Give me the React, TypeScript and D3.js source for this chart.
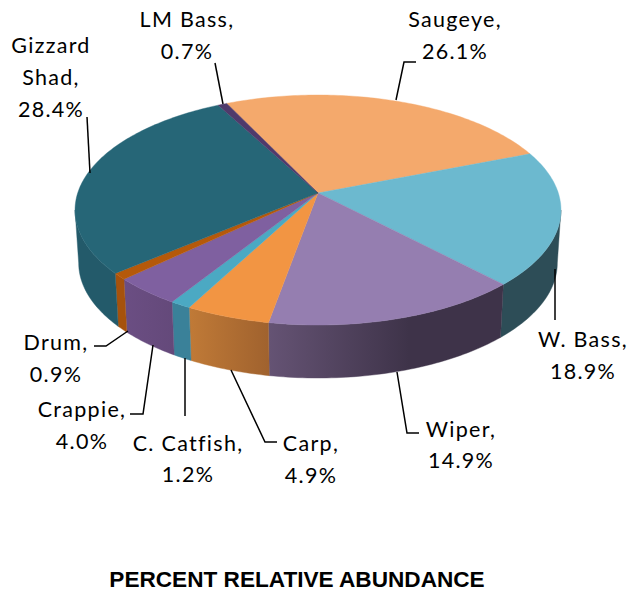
import React from 'react';
import * as d3 from 'd3';

// Values as printed on the chart, clockwise from the top
const species = ['Saugeye', 'W. Bass', 'Wiper', 'Carp', 'C. Catfish', 'Crappie', 'Drum', 'Gizzard Shad', 'LM Bass'];
const percents = [26.1, 18.9, 14.9, 4.9, 1.2, 4.0, 0.9, 28.4, 0.7];
const topColors = ['#F4A96C', '#6CB9CF', '#957EB0', '#F29543', '#4BA9C3', '#7F60A0', '#B5590A', '#266677', '#4F3A6B'];
const wallColors = [
  ['#C08050', '#C08050'],
  ['#2D4D57', '#2D4D57'],
  ['#655374', '#3E3349'],
  ['#C07A37', '#A0622E'],
  ['#3A8199', '#3A8199'],
  ['#6B4E83', '#64497A'],
  ['#A6520C', '#A6520C'],
  ['#235A6A', '#235A6A'],
  ['#3F2E55', '#3F2E55'],
];

// label lines and leader polylines, in page pixels
const labelLayout = [
  { lines: ['Saugeye,', '26.1%'], x: 455, y: [27, 59], leader: [[416, 62], [404, 62], [396, 100]] },
  { lines: ['W. Bass,', '18.9%'], x: 583, y: [347, 379], leader: [[555, 269], [555, 320]] },
  { lines: ['Wiper,', '14.9%'], x: 461, y: [437, 468], leader: [[397, 372], [407, 433], [419, 433]] },
  { lines: ['Carp,', '4.9%'], x: 311, y: [451, 483], leader: [[231, 370], [265, 442], [277, 442]] },
  { lines: ['C. Catfish,', '1.2%'], x: 188, y: [451, 482], leader: [[185, 358], [185, 416]] },
  { lines: ['Crappie,', '4.0%'], x: 82, y: [417, 449], leader: [[153, 345], [143, 414], [130, 414]] },
  { lines: ['Drum,', '0.9%'], x: 56, y: [350, 382], leader: [[128, 331], [106, 346], [94, 346]] },
  { lines: ['Gizzard', 'Shad,', '28.4%'], x: 51, y: [53, 85, 117], leader: [[87, 117], [90, 173]] },
  { lines: ['LM Bass,', '0.7%'], x: 187, y: [27, 59], leader: [[215, 63], [223, 104]] },
];

const width = 631;
const height = 590;
const cx = 318;
const cy = 193;
const radiusX = 240.3;
const radiusY = 112.5;
const tilt = 0.148;
const depth = 53;
const degree = Math.PI / 180;

// perspective view of the disc: angle is clockwise from the top
const project = (angle: number, shrink = 1, drop = 0): [number, number] => {
  const u = Math.sin(angle);
  const v = -Math.cos(angle);
  const w = 1 - tilt * v;
  return [cx + (shrink * radiusX * u) / w, cy + drop + (radiusY * v) / w];
};

const outline = d3.line<[number, number]>();

const sampleAngles = (a0: number, a1: number) => {
  const steps = Math.max(2, Math.ceil(Math.abs(a1 - a0) / degree));
  return d3.range(steps + 1).map(i => a0 + ((a1 - a0) * i) / steps);
};

const arcs = d3
  .pie<number>()
  .sort(null)
  .startAngle(-25.5 * degree)
  .endAngle(334.5 * degree)(percents);

// the part of the rim that faces the viewer runs between the two silhouette points
const wallRange: [number, number] = [98.5 * degree, 261.5 * degree];

export default function App() {
  const walls = arcs
    .map((arc, i) => {
      const a0 = Math.max(arc.startAngle, wallRange[0]);
      const a1 = Math.min(arc.endAngle, wallRange[1]);
      if (a1 <= a0) return null;
      const angles = sampleAngles(a0, a1);
      const points = [
        ...angles.map(a => project(a)),
        ...angles.slice().reverse().map(a => project(a, 0.985, depth)),
      ];
      const xs = d3.extent(points, p => p[0]) as [number, number];
      return { i, d: `${outline(points)}Z`, xs };
    })
    .filter(Boolean) as { i: number; d: string; xs: [number, number] }[];

  return (
    <svg width={width} height={height} style={{ position: 'absolute', left: 0, top: 0 }}>
      <defs>
        {walls.map(w => (
          <linearGradient key={w.i} id={`wall-${w.i}`} gradientUnits="userSpaceOnUse" x1={w.xs[0]} x2={w.xs[1]} y1={0} y2={0}>
            <stop offset="0" stopColor={wallColors[w.i][0]} />
            <stop offset={w.i === 2 ? 0.6 : 1} stopColor={wallColors[w.i][1]} />
          </linearGradient>
        ))}
      </defs>
      {walls.map(w => (
        <path key={w.i} d={w.d} fill={`url(#wall-${w.i})`} stroke={`url(#wall-${w.i})`} strokeWidth={0.4} />
      ))}
      {arcs.map((arc, i) => {
        const rim = sampleAngles(arc.startAngle, arc.endAngle).map(a => project(a));
        return <path key={species[i]} d={`${outline([[cx, cy], ...rim])}Z`} fill={topColors[i]} stroke={topColors[i]} strokeWidth={0.4} />;
      })}
      {labelLayout.map(label => (
        <g key={label.lines[0]}>
          <path d={outline(label.leader as [number, number][]) ?? ''} fill="none" stroke="#000" strokeWidth={1.5} />
          {label.lines.map((line, j) => (
            <text key={line} x={label.x} y={label.y[j]} textAnchor="middle" fontFamily="Lato" fontSize={21.5} letterSpacing={1.3} fill="#000">
              {line}
            </text>
          ))}
        </g>
      ))}
      <text x={297} y={587} textAnchor="middle" fontFamily="Liberation Sans" fontWeight="bold" fontSize={22.6} fill="#000">
        PERCENT RELATIVE ABUNDANCE
      </text>
    </svg>
  );
}
